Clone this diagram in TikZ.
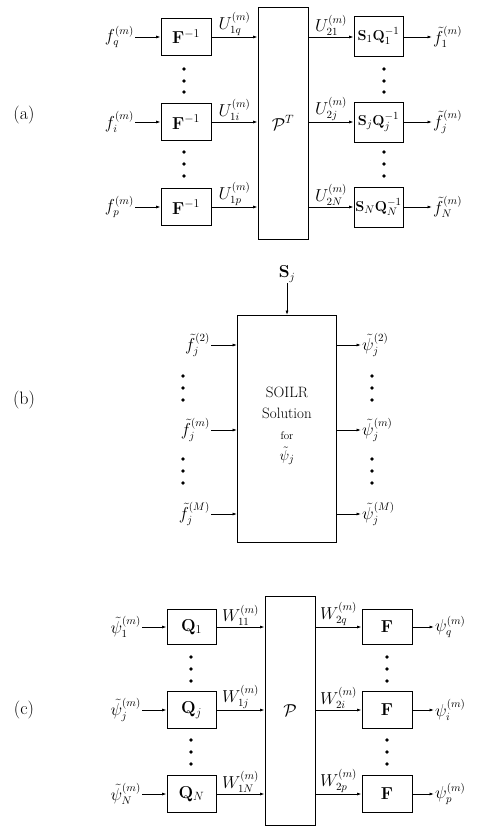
\documentclass[tikz,border=0pt]{standalone}
\usepackage{amsmath}
\usetikzlibrary{arrows.meta}
\begin{document}
\begin{tikzpicture}[x=1pt,y=-1pt,
  blk/.style={draw, line width=0.9pt, inner sep=0pt, font=\fontsize{17}{20}\selectfont},
  lbl/.style={inner sep=1pt, font=\fontsize{16}{19}\selectfont},
  part/.style={inner sep=1pt, font=\fontsize{18}{21}\selectfont},
  arr/.style={-{Latex[length=4.5pt,width=3pt]}, line width=0.8pt},
  dotn/.style={circle, fill, inner sep=0pt, minimum size=3.8pt},
  fbox/.style={blk, minimum width=50pt, minimum height=37pt},
  sbox/.style={blk, minimum width=49pt, minimum height=40pt, font=\fontsize{15}{18}\selectfont}]
\useasboundingbox (0,0) rectangle (476,826);

% ---------------- (a) ----------------
\node[part] (la) at (24,115) {(a)};
\node[fbox] (F1) at (186,37) {$\mathbf{F}^{-1}$};
\node[fbox] (F2) at (186,122) {$\mathbf{F}^{-1}$};
\node[fbox] (F3) at (186,207) {$\mathbf{F}^{-1}$};
\node[blk, minimum width=50pt, minimum height=232pt] (PT) at (283,123) {$\mathcal{P}^T$};
\node[sbox] (S1) at (378.5,36) {$\mathbf{S}_1\mathbf{Q}_1^{-1}$};
\node[sbox] (S2) at (378.5,122) {$\mathbf{S}_j\mathbf{Q}_j^{-1}$};
\node[sbox] (S3) at (378.5,207) {$\mathbf{S}_N\mathbf{Q}_N^{-1}$};

\node[lbl, anchor=east] (fa1) at (135,37) {$f_q^{(m)}$};
\node[lbl, anchor=east] (fa2) at (135,122) {$f_i^{(m)}$};
\node[lbl, anchor=east] (fa3) at (135,207) {$f_p^{(m)}$};
\node[lbl, anchor=west] (ga1) at (432,37) {$\tilde f_1^{(m)}$};
\node[lbl, anchor=west] (ga2) at (432,122) {$\tilde f_j^{(m)}$};
\node[lbl, anchor=west] (ga3) at (432,207) {$\tilde f_N^{(m)}$};

\draw[arr] (fa1.east) -- (fa1.east -| F1.west);
\draw[arr] (fa2.east) -- (fa2.east -| F2.west);
\draw[arr] (fa3.east) -- (fa3.east -| F3.west);
\draw[arr] (F1.east) -- node[lbl, above]{$U_{1q}^{(m)}$} (F1.east -| PT.west);
\draw[arr] (F2.east) -- node[lbl, above]{$U_{1i}^{(m)}$} (F2.east -| PT.west);
\draw[arr] (F3.east) -- node[lbl, above]{$U_{1p}^{(m)}$} (F3.east -| PT.west);
\draw[arr] (PT.east |- F1.east) -- node[lbl, above]{$U_{21}^{(m)}$} (PT.east |- F1.east -| S1.west);
\draw[arr] (PT.east |- F2.east) -- node[lbl, above]{$U_{2j}^{(m)}$} (PT.east |- F2.east -| S2.west);
\draw[arr] (PT.east |- F3.east) -- node[lbl, above]{$U_{2N}^{(m)}$} (PT.east |- F3.east -| S3.west);
\draw[arr] (S1.east |- ga1.west) -- (ga1.west);
\draw[arr] (S2.east |- ga2.west) -- (ga2.west);
\draw[arr] (S3.east |- ga3.west) -- (ga3.west);

\foreach \x/\n in {184/L,384/R}{
  \foreach \y/\m in {69/a,81/b,92/c,152/d,164/e,176/f}{
    \node[dotn] (da\n\m) at (\x,\y) {};
  }
}

% ---------------- (b) ----------------
\node[part] (lb) at (24,400) {(b)};
\node[lbl] (Sj) at (287,274) {$\mathbf{S}_j$};
\node[blk, minimum width=99pt, minimum height=227pt] (B) at (287,429) {};
\node[inner sep=0pt, align=center, font=\fontsize{15}{21}\selectfont] (Btxt) at (287,426)
  {SOILR\\ Solution\\ {\fontsize{11}{12}\selectfont for}\\ $\tilde\psi_j$};
\draw[arr] (Sj.south) -- (B.north);

\node[lbl, anchor=east] (fb1) at (211,345) {$\tilde f_j^{(2)}$};
\node[lbl, anchor=east] (fb2) at (211,430) {$\tilde f_j^{(m)}$};
\node[lbl, anchor=east] (fb3) at (211,514) {$\tilde f_j^{(M)}$};
\node[lbl, anchor=west] (pb1) at (361,345) {$\tilde\psi_j^{(2)}$};
\node[lbl, anchor=west] (pb2) at (361,430) {$\tilde\psi_j^{(m)}$};
\node[lbl, anchor=west] (pb3) at (361,514) {$\tilde\psi_j^{(M)}$};
\draw[arr] (fb1.east) -- (fb1.east -| B.west);
\draw[arr] (fb2.east) -- (fb2.east -| B.west);
\draw[arr] (fb3.east) -- (fb3.east -| B.west);
\draw[arr] (B.east |- pb1.west) -- (pb1.west);
\draw[arr] (B.east |- pb2.west) -- (pb2.west);
\draw[arr] (B.east |- pb3.west) -- (pb3.west);

\foreach \x/\n in {183/L,372/R}{
  \foreach \y/\m in {376/a,388/b,400/c,459/d,471/e,483/f}{
    \node[dotn] (db\n\m) at (\x,\y) {};
  }
}

% ---------------- (c) ----------------
\node[part] (lc) at (24,710) {(c)};
\node[blk, minimum width=49pt, minimum height=35pt] (Q1) at (191.5,627) {$\mathbf{Q}_1$};
\node[blk, minimum width=49pt, minimum height=37pt] (Q2) at (191.5,710) {$\mathbf{Q}_j$};
\node[blk, minimum width=49pt, minimum height=37pt] (Q3) at (191.5,794) {$\mathbf{Q}_N$};
\node[blk, minimum width=50pt, minimum height=229pt] (P) at (290,710.5) {$\mathcal{P}$};
\node[blk, minimum width=50pt, minimum height=35pt] (G1) at (387,627) {$\mathbf{F}$};
\node[blk, minimum width=50pt, minimum height=37pt] (G2) at (387,710) {$\mathbf{F}$};
\node[blk, minimum width=50pt, minimum height=37pt] (G3) at (387,794) {$\mathbf{F}$};

\node[lbl, anchor=east] (pc1) at (142,627) {$\tilde\psi_1^{(m)}$};
\node[lbl, anchor=east] (pc2) at (142,710) {$\tilde\psi_j^{(m)}$};
\node[lbl, anchor=east] (pc3) at (142,794) {$\tilde\psi_N^{(m)}$};
\node[lbl, anchor=west] (qc1) at (434,627) {$\psi_q^{(m)}$};
\node[lbl, anchor=west] (qc2) at (434,710) {$\psi_i^{(m)}$};
\node[lbl, anchor=west] (qc3) at (434,794) {$\psi_p^{(m)}$};

\draw[arr] (pc1.east) -- (pc1.east -| Q1.west);
\draw[arr] (pc2.east) -- (pc2.east -| Q2.west);
\draw[arr] (pc3.east) -- (pc3.east -| Q3.west);
\draw[arr] (Q1.east) -- node[lbl, above]{$W_{11}^{(m)}$} (Q1.east -| P.west);
\draw[arr] (Q2.east) -- node[lbl, above]{$W_{1j}^{(m)}$} (Q2.east -| P.west);
\draw[arr] (Q3.east) -- node[lbl, above]{$W_{1N}^{(m)}$} (Q3.east -| P.west);
\draw[arr] (P.east |- G1.west) -- node[lbl, above]{$W_{2q}^{(m)}$} (G1.west);
\draw[arr] (P.east |- G2.west) -- node[lbl, above]{$W_{2i}^{(m)}$} (G2.west);
\draw[arr] (P.east |- G3.west) -- node[lbl, above]{$W_{2p}^{(m)}$} (G3.west);
\draw[arr] (G1.east) -- (G1.east -| qc1.west);
\draw[arr] (G2.east) -- (G2.east -| qc2.west);
\draw[arr] (G3.east) -- (G3.east -| qc3.west);

\foreach \x/\n in {191/L,387/R}{
  \foreach \y/\m in {657/a,669/b,681/c,740/d,752/e,764/f}{
    \node[dotn] (dc\n\m) at (\x,\y) {};
  }
}
\end{tikzpicture}
\end{document}
